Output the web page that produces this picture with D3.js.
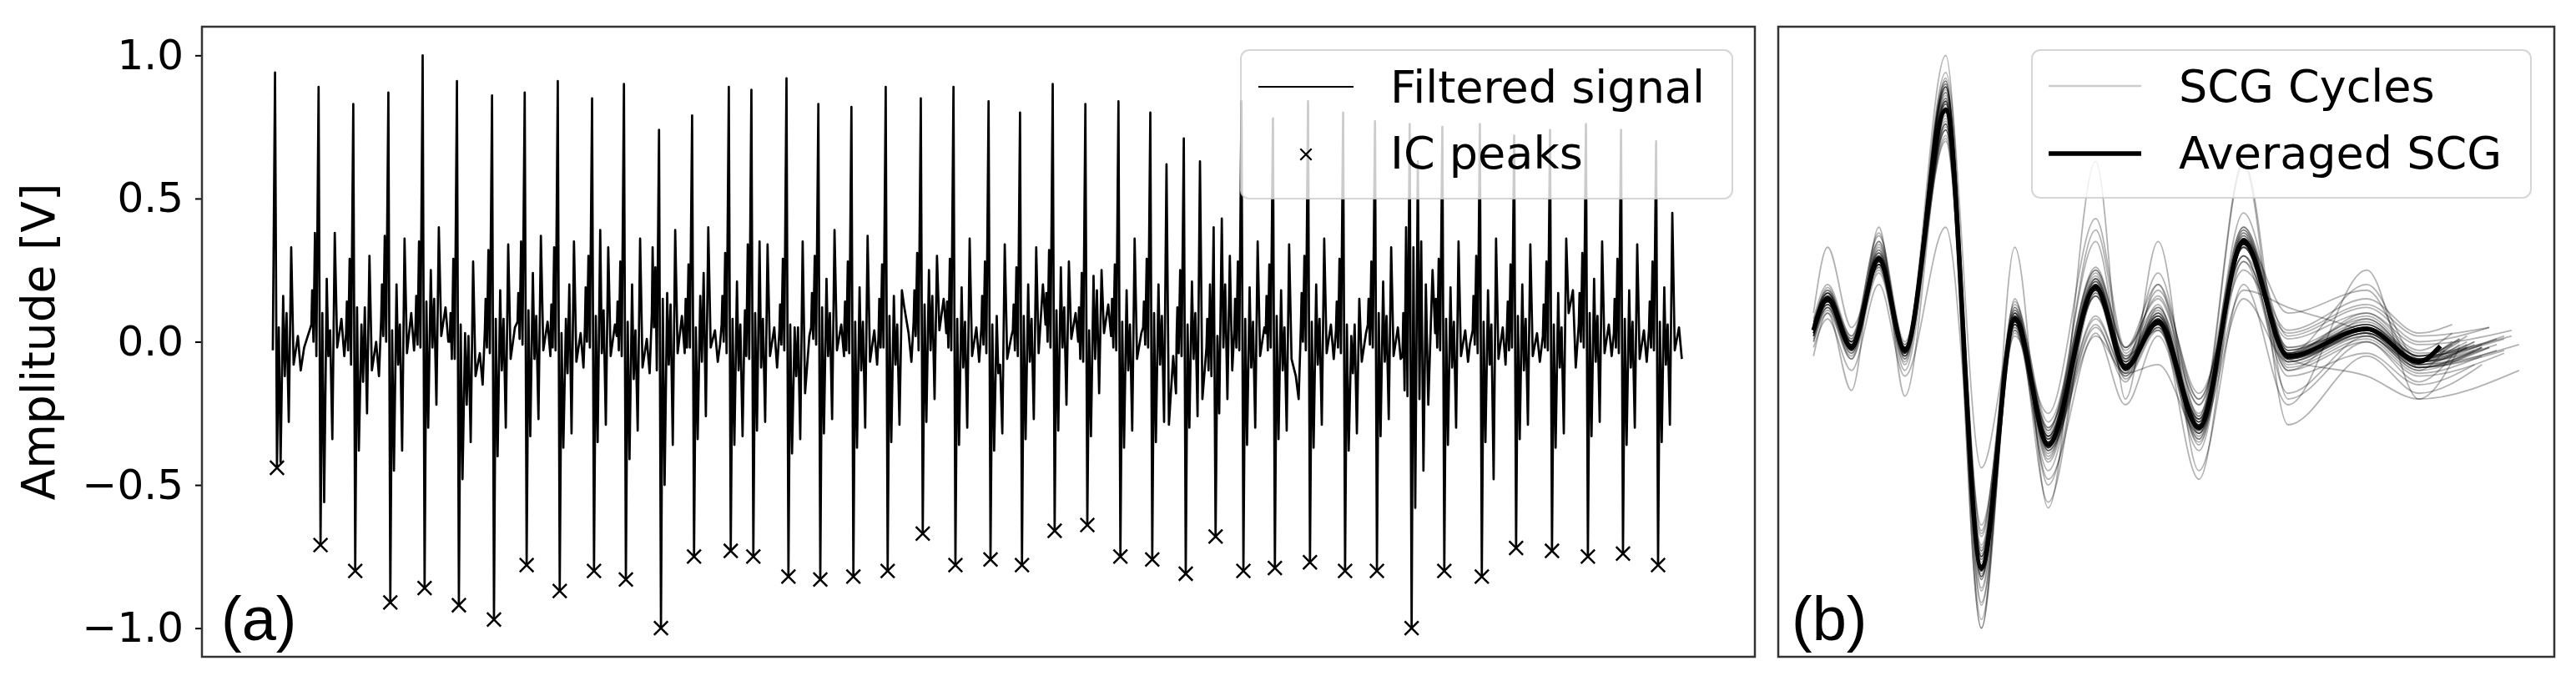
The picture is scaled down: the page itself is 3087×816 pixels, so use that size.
<!DOCTYPE html>
<html>
<head>
<meta charset="utf-8">
<script src="https://cdn.jsdelivr.net/npm/d3@7"></script>
<style>
  body { margin: 0; background: #fff; }
  svg { display: block; font-family: "DejaVu Sans", sans-serif; }
</style>
</head>
<body>
<svg id="fig" width="3087" height="816"></svg>
<script>
// ---- values ----

// IC peaks of panel (a): time [s] and amplitude [V]
var icTimes = [0.11, 1.19, 2.05, 2.92, 3.77, 4.62, 5.49, 6.30, 7.12, 7.97, 8.76, 9.63, 10.45, 11.36,
  11.92, 12.79, 13.58, 14.40, 15.25, 16.12, 16.93, 17.80, 18.58, 19.39, 20.20, 21.02, 21.81, 22.64,
  23.38, 24.07, 24.85, 25.72, 26.59, 27.38, 28.24, 29.05, 29.98, 30.83, 31.72, 32.61, 33.48, 34.35];
var icPeaks = [-0.44, -0.71, -0.80, -0.91, -0.86, -0.92, -0.97, -0.78, -0.87, -0.80, -0.83, -1.00, -0.75, -0.73,
  -0.75, -0.82, -0.83, -0.82, -0.80, -0.67, -0.78, -0.76, -0.78, -0.66, -0.64, -0.75, -0.76, -0.81,
  -0.68, -0.80, -0.79, -0.77, -0.80, -0.80, -1.00, -0.80, -0.82, -0.72, -0.73, -0.75, -0.74, -0.78];
// the tall positive spike just before every IC peak
var sysPeaks = [0.94, 0.89, 0.83, 0.87, 1.00, 0.91, 0.86, 0.87, 0.91, 0.85, 0.90, 0.74, 0.79, 0.89,
  0.88, 0.92, 0.83, 0.82, 0.89, 0.85, 0.89, 0.84, 0.80, 0.90, 0.83, 0.84, 0.80, 0.71,
  0.40, 0.84, 0.78, 0.84, 0.80, 0.77, 0.76, 0.75, 0.76, 0.72, 0.74, 0.76, 0.74, 0.70];
// first and last sample of the filtered signal [s]
var signalSpan = [0, 35.0];

// averaged SCG of panel (b): turning points, time from cycle start [s]
var cycleNodeTimes = [0, 0.019, 0.051, 0.088, 0.123, 0.178, 0.226, 0.271, 0.316, 0.380, 0.420,
  0.464, 0.519, 0.579, 0.639, 0.745, 0.815, 0.844];
var avgScg = [0.04, 0.15, -0.02, 0.29, -0.03, 0.81, -0.79, 0.08, -0.36, 0.19, -0.09,
  0.07, -0.30, 0.35, -0.05, 0.045, -0.07, -0.015];

// single SCG cycles at the same turning points, spike and IC peak left out
// (n0..n4, then n7..n17)
var cycleNodes = [
  [0.02, 0.12, -0.04, 0.27, -0.03, 0.05, -0.42, 0.16, -0.12, 0.10, -0.28, 0.33, -0.08, 0.02, -0.10, -0.02],
  [0.06, 0.18, 0.00, 0.38, -0.05, 0.10, -0.56, 0.22, -0.05, 0.04, -0.34, 0.38, -0.02, 0.08, -0.05, 0.01],
  [0.03, 0.14, -0.03, 0.29, -0.08, 0.12, -0.38, 0.06, -0.14, 0.12, -0.25, 0.30, -0.10, 0.00, -0.12, -0.04],
  [0.08, 0.20, 0.02, 0.37, 0.00, 0.04, -0.45, 0.20, -0.08, 0.06, -0.38, 0.36, -0.04, 0.10, -0.03, 0.03],
  [0.05, 0.16, -0.01, 0.35, -0.02, 0.14, -0.30, 0.25, -0.02, 0.15, -0.22, 0.40, 0.02, 0.12, 0.00, 0.05],
  [0.00, 0.10, -0.06, 0.29, -0.06, 0.06, -0.48, 0.03, -0.22, 0.02, -0.35, 0.28, -0.12, -0.04, -0.15, -0.08],
  [0.04, 0.15, -0.02, 0.32, -0.04, 0.08, -0.40, 0.18, -0.10, 0.08, -0.30, 0.34, -0.06, 0.05, -0.08, -0.01],
  [0.07, 0.17, 0.01, 0.35, -0.01, 0.11, -0.33, 0.24, -0.06, 0.09, -0.27, 0.37, -0.03, 0.07, -0.05, 0.02],
  [0.03, 0.13, -0.02, 0.33, -0.03, 0.03, -0.37, 0.08, -0.11, 0.20, -0.32, 0.35, -0.07, 0.03, -0.09, -0.03],
  [0.05, 0.19, 0.00, 0.30, -0.02, 0.09, -0.35, 0.39, -0.04, 0.11, -0.29, 0.33, -0.05, 0.06, -0.06, 0.00],
  [0.02, 0.14, -0.03, 0.28, -0.05, 0.07, -0.41, 0.20, -0.13, 0.04, -0.31, 0.36, -0.09, 0.01, -0.11, -0.05],
  [0.10, 0.33, 0.05, 0.26, -0.10, 0.15, -0.50, 0.17, -0.08, 0.13, -0.36, 0.39, -0.04, 0.09, -0.04, 0.02],
  [0.04, 0.15, -0.02, 0.27, -0.02, 0.05, -0.34, 0.16, -0.07, 0.24, -0.26, 0.40, -0.02, 0.04, -0.07, -0.01],
  [0.06, 0.16, 0.00, 0.31, -0.04, 0.08, -0.36, 0.21, -0.10, 0.06, -0.33, 0.38, -0.06, 0.03, -0.06, 0.00],
  [0.01, 0.11, -0.05, 0.34, -0.06, 0.10, -0.31, 0.35, -0.09, 0.08, -0.28, 0.34, -0.05, 0.05, -0.09, -0.02],
  [0.03, 0.13, -0.01, 0.29, -0.03, 0.06, -0.39, 0.05, -0.12, 0.05, -0.34, 0.35, -0.18, 0.02, -0.10, -0.03],
  [0.05, 0.17, 0.01, 0.30, -0.01, 0.12, -0.32, 0.22, -0.05, 0.10, -0.27, 0.39, -0.03, 0.06, -0.05, 0.01],
  [0.04, 0.14, -0.03, 0.28, -0.04, 0.07, -0.37, 0.19, -0.10, 0.07, -0.30, 0.37, -0.07, 0.04, -0.08, -0.02],
  [0.02, 0.15, -0.02, 0.27, -0.02, 0.09, -0.35, 0.16, -0.08, 0.06, -0.29, 0.18, 0.12, 0.03, -0.07, -0.01],
  [0.07, 0.18, 0.02, 0.31, -0.03, 0.13, -0.28, 0.25, -0.03, 0.16, -0.20, 0.30, 0.04, 0.15, 0.03, 0.06],
  [0.03, 0.14, -0.02, 0.29, -0.03, 0.08, -0.36, 0.19, -0.09, 0.07, -0.30, 0.36, -0.05, 0.05, -0.07, -0.01],
  [0.05, 0.16, -0.01, 0.28, -0.04, 0.06, -0.38, 0.09, -0.11, -0.08, -0.32, 0.34, -0.06, 0.02, -0.09, -0.03],
  [0.04, 0.13, -0.03, 0.26, -0.05, 0.09, -0.34, 0.20, -0.07, 0.08, -0.27, 0.33, -0.04, 0.20, -0.06, 0.00],
  [0.06, 0.17, 0.00, 0.32, -0.02, 0.11, -0.31, 0.26, -0.02, 0.12, -0.22, 0.28, 0.01, 0.10, -0.01, 0.04],
  [0.00, 0.12, -0.06, 0.24, -0.07, 0.04, -0.33, 0.23, -0.06, 0.18, -0.18, 0.25, 0.03, 0.13, 0.02, 0.05],
  [0.03, 0.15, -0.02, 0.27, -0.03, 0.07, -0.37, 0.18, -0.10, 0.06, -0.31, 0.36, -0.06, 0.03, -0.08, -0.02],
  [0.05, 0.14, -0.01, 0.29, -0.02, 0.10, -0.35, 0.20, -0.08, 0.09, -0.28, 0.62, -0.29, -0.05, -0.18, -0.08],
  [0.02, 0.12, -0.04, 0.25, -0.05, 0.06, -0.30, 0.21, -0.06, 0.10, -0.26, 0.63, -0.20, 0.00, -0.14, -0.05],
  [-0.02, 0.08, -0.10, 0.20, -0.12, 0.02, -0.25, 0.43, -0.02, 0.20, -0.20, 0.30, -0.10, 0.08, -0.05, 0.02],
  [0.04, 0.15, -0.02, 0.28, -0.03, 0.08, -0.36, 0.19, -0.09, 0.07, -0.30, 0.35, -0.05, 0.05, -0.07, -0.01],
  [0.03, 0.16, -0.03, 0.27, -0.02, 0.09, -0.34, 0.18, -0.10, 0.05, -0.31, 0.34, -0.06, -0.12, -0.20, -0.02],
  [0.05, 0.17, 0.00, 0.30, -0.03, 0.07, -0.37, 0.20, -0.08, 0.08, -0.29, 0.36, -0.04, 0.06, -0.06, 0.01],
  [0.04, 0.14, -0.02, 0.29, -0.04, 0.06, -0.38, 0.02, -0.11, 0.06, -0.32, 0.15, -0.07, 0.03, -0.09, -0.02],
  [0.06, 0.15, -0.01, 0.28, -0.02, 0.10, -0.33, 0.21, -0.07, 0.09, -0.27, 0.33, -0.05, 0.05, -0.06, 0.00],
  [-0.05, 0.10, -0.17, 0.40, -0.19, 0.33, -0.58, 0.63, -0.20, 0.35, -0.45, 0.20, -0.22, 0.25, -0.20, -0.10],
  [0.03, 0.15, -0.02, 0.29, -0.03, 0.08, -0.36, 0.19, -0.09, 0.07, -0.30, 0.35, -0.05, 0.04, -0.07, -0.01],
  [0.04, 0.16, -0.01, 0.30, -0.04, 0.07, -0.35, 0.18, -0.08, 0.06, -0.48, 0.36, -0.06, 0.05, -0.08, -0.02],
  [0.05, 0.14, -0.03, 0.27, -0.02, 0.09, -0.34, 0.20, -0.10, 0.08, -0.29, 0.34, -0.05, 0.03, -0.07, 0.00],
  [0.02, 0.13, -0.02, 0.28, -0.03, 0.06, -0.37, 0.17, -0.09, 0.05, -0.32, 0.36, 0.10, 0.18, -0.09, -0.03],
  [0.06, 0.17, 0.00, 0.31, -0.02, 0.10, -0.33, 0.22, -0.07, 0.09, -0.28, 0.35, -0.04, 0.06, -0.05, 0.01],
  [0.03, 0.15, -0.02, 0.29, -0.04, 0.08, -0.36, 0.18, -0.09, 0.07, -0.30, 0.34, -0.06, 0.04, -0.07, -0.02],
  [0.04, 0.14, -0.02, 0.28, -0.03, 0.07, -0.35, 0.19, -0.08, 0.06, -0.29, 0.45, -0.03, 0.05, -0.06, -0.01]
];
// length of every cycle [s] (time of its last point)
var cycleLengths = [0.90, 0.87, 0.93, 0.86, 0.91, 0.89, 0.95, 0.88, 0.92, 0.86, 0.90, 0.94, 0.87, 0.89,
  0.91, 0.85, 0.93, 0.88, 0.90, 0.86, 0.92, 0.89, 0.87, 0.94, 0.91, 0.88, 0.90, 0.86,
  0.93, 0.89, 0.87, 0.92, 0.90, 0.88, 0.95, 0.86, 0.91, 0.89, 0.93, 0.87, 0.90, 0.88];

var yTicks = [-1.0, -0.5, 0.0, 0.5, 1.0];
var legendA = ["Filtered signal", "IC peaks"];
var legendB = ["SCG Cycles", "Averaged SCG"];

// ---- layout ----
var svg = d3.select("#fig");
var frameA = {x0: 242, x1: 2103, y0: 32, y1: 787};
var frameB = {x0: 2131, x1: 3061, y0: 32, y1: 787};
var icNode = 6;   // position of the IC peak among the turning points

function padded(lo, hi) {
  var m = (hi - lo) * 0.05;
  return [lo - m, hi + m];
}

// every cycle as {t, v} points, t from cycle start
var cycles = cycleNodes.map(function (row, k) {
  var vals = row.slice(0, 5).concat([sysPeaks[k], icPeaks[k]], row.slice(5));
  return vals.map(function (v, j) {
    return {t: j === vals.length - 1 ? cycleLengths[k] : cycleNodeTimes[j], v: v};
  });
});

// the filtered signal: cycles laid end to end at their IC peaks
var icOffset = cycleNodeTimes[icNode];
var signal = [];
cycles.forEach(function (c, k) {
  var start = icTimes[k] - icOffset;
  var stop = k < cycles.length - 1 ? icTimes[k + 1] - icOffset : signalSpan[1] + 1e-6;
  c.forEach(function (p) {
    var t = start + p.t;
    if (t >= signalSpan[0] && t < stop) signal.push({t: t, v: p.v});
  });
});

var yDomain = padded(d3.min(signal, d => d.v), d3.max(signal, d => d.v));
var xA = d3.scaleLinear().domain(padded(signalSpan[0], signalSpan[1])).range([frameA.x0, frameA.x1]);
var yA = d3.scaleLinear().domain(yDomain).range([frameA.y1, frameA.y0]);
var xB = d3.scaleLinear().domain(padded(0, d3.max(cycleLengths))).range([frameB.x0, frameB.x1]);
var yB = d3.scaleLinear().domain(yDomain).range([frameB.y1, frameB.y0]);

// ---- panel (a) ----
var gA = svg.append("g");

gA.append("path")
  .datum(signal)
  .attr("fill", "none")
  .attr("stroke", "#000")
  .attr("stroke-width", 2.7)
  .attr("stroke-linejoin", "round")
  .attr("d", d3.line().x(d => xA(d.t)).y(d => yA(d.v)));

var cross = d3.symbol().type(d3.symbolX).size(180);
gA.selectAll("path.ic")
  .data(icTimes)
  .enter()
  .append("path")
    .attr("class", "ic")
    .attr("d", cross)
    .attr("transform", (d, i) => "translate(" + xA(d) + "," + yA(icPeaks[i]) + ")")
    .attr("fill", "none")
    .attr("stroke", "#000")
    .attr("stroke-width", 2.5);

// y axis
var yAxis = gA.append("g")
  .attr("transform", "translate(" + frameA.x0 + ",0)")
  .call(d3.axisLeft(yA).tickValues(yTicks).tickSize(8).tickPadding(14).tickFormat(d3.format(".1f")));
yAxis.select(".domain").remove();
yAxis.selectAll(".tick line").attr("stroke", "#000").attr("stroke-width", 2);
yAxis.selectAll(".tick text")
  .attr("fill", "#000")
  .style("font-size", "50px")
  .style("font-family", "DejaVu Sans");

gA.append("text")
  .attr("transform", "translate(65," + ((frameA.y0 + frameA.y1) / 2) + ") rotate(-90)")
  .attr("text-anchor", "middle")
  .style("font-size", "55px")
  .text("Amplitude [V]");

// ---- panel (b) ----
var gB = svg.append("g");
var smooth = d3.line().x(d => xB(d.t)).y(d => yB(d.v)).curve(d3.curveMonotoneX);

gB.selectAll("path.cycle")
  .data(cycles)
  .enter()
  .append("path")
    .attr("class", "cycle")
    .attr("d", smooth)
    .attr("fill", "none")
    .attr("stroke", "#000")
    .attr("stroke-opacity", 0.3)
    .attr("stroke-width", 1.8);

gB.append("path")
  .datum(avgScg.map((v, j) => ({t: cycleNodeTimes[j], v: v})))
  .attr("d", smooth)
  .attr("fill", "none")
  .attr("stroke", "#000")
  .attr("stroke-width", 5.5);

// ---- frames, legends, panel letters ----
[frameA, frameB].forEach(function (f) {
  svg.append("rect")
    .attr("x", f.x0).attr("y", f.y0)
    .attr("width", f.x1 - f.x0).attr("height", f.y1 - f.y0)
    .attr("fill", "none")
    .attr("stroke", "#333")
    .attr("stroke-width", 2.5);
});

function legendBox(x, y, w, h) {
  svg.append("rect")
    .attr("x", x).attr("y", y).attr("width", w).attr("height", h)
    .attr("rx", 10)
    .attr("fill", "#fff").attr("fill-opacity", 0.8)
    .attr("stroke", "#ccc").attr("stroke-opacity", 0.8)
    .attr("stroke-width", 2);
}
function legendText(x, y, s) {
  svg.append("text").attr("x", x).attr("y", y).style("font-size", "54px").text(s);
}

legendBox(1487, 60, 589, 178);
svg.append("line")
  .attr("x1", 1508).attr("x2", 1622).attr("y1", 104).attr("y2", 104)
  .attr("stroke", "#000").attr("stroke-width", 2.2);
svg.append("path")
  .attr("d", d3.symbol().type(d3.symbolX).size(120))
  .attr("transform", "translate(1565,185)")
  .attr("fill", "none").attr("stroke", "#000").attr("stroke-width", 2.2);
legendText(1666, 123, legendA[0]);
legendText(1666, 202, legendA[1]);

legendBox(2435, 60, 598, 177);
svg.append("line")
  .attr("x1", 2455).attr("x2", 2566).attr("y1", 103).attr("y2", 103)
  .attr("stroke", "#000").attr("stroke-opacity", 0.2).attr("stroke-width", 2.5);
svg.append("line")
  .attr("x1", 2455).attr("x2", 2566).attr("y1", 184).attr("y2", 184)
  .attr("stroke", "#000").attr("stroke-width", 5.5);
legendText(2611, 122, legendB[0]);
legendText(2611, 202, legendB[1]);

[["(a)", 265], ["(b)", 2147]].forEach(function (p) {
  svg.append("text")
    .attr("x", p[1]).attr("y", 767)
    .style("font-family", "'Liberation Sans', Arial, sans-serif")
    .style("font-size", "74px")
    .text(p[0]);
});
</script>
</body>
</html>
